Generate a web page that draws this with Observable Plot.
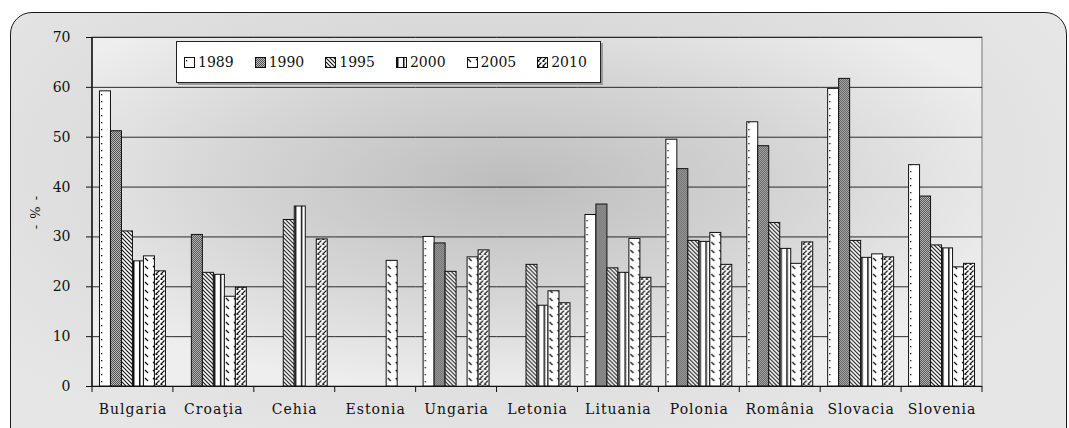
<!DOCTYPE html>
<html>
<head>
<meta charset="utf-8">
<script src="https://cdn.jsdelivr.net/npm/d3@7"></script>
<script src="https://cdn.jsdelivr.net/npm/@observablehq/plot@0.6"></script>
<style>
  html, body { margin: 0; padding: 0; background: #ffffff; }
  #wrap { position: relative; width: 1069px; height: 428px; overflow: hidden; }
  #frame {
    position: absolute; left: 10px; top: 12px; width: 1057px; height: 440px;
    border: 1.5px solid #1a1a1a; border-radius: 22px; box-sizing: border-box;
    background: radial-gradient(ellipse 60% 70% at 45% 35%, #c8c8c8 0%, #d9d9d9 45%, #e6e6e6 100%);
  }
  #chart { position: absolute; left: 0; top: 0; }
  #legend {
    position: absolute; left: 176px; top: 41px; width: 425px; height: 42px; box-sizing: border-box;
    background: #ffffff; border: 1.5px solid #222; box-shadow: 2px 2px 0 #9a9a9a;
    display: flex; align-items: center; padding-left: 7px; gap: 21px;
    font-family: "DejaVu Serif", serif; font-size: 14px; color: #111;
  }
  #legend .item { display: flex; align-items: center; }
  #legend svg { margin-right: 3px; }
</style>
</head>
<body>
<svg width="0" height="0" style="position:absolute">
  <defs>
    <pattern id="p1989" patternUnits="userSpaceOnUse" width="11" height="7">
      <rect width="11" height="7" fill="#ffffff"/>
      <rect x="2" y="3" width="1.3" height="1.3" fill="#111"/>
    </pattern>
    <pattern id="p1990" patternUnits="userSpaceOnUse" width="2" height="2">
      <rect width="2" height="2" fill="#bcbcbc"/>
      <rect x="0" y="0" width="1" height="1" fill="#505050"/>
      <rect x="1" y="1" width="1" height="1" fill="#505050"/>
    </pattern>
    <pattern id="p1995" patternUnits="userSpaceOnUse" width="4" height="4">
      <rect width="4" height="4" fill="#ffffff"/>
      <path d="M-1,-1 L5,5 M-1,3 L1,5 M3,-1 L5,1" stroke="#111" stroke-width="1.1"/>
    </pattern>
    <pattern id="p2000" patternUnits="userSpaceOnUse" width="6" height="10">
      <rect width="6" height="10" fill="#ffffff"/>
      <rect x="1" y="0" width="1.5" height="10" fill="#111"/>
    </pattern>
    <pattern id="p2005" patternUnits="userSpaceOnUse" width="8" height="8">
      <rect width="8" height="8" fill="#ffffff"/>
      <path d="M1,2 L4,5" stroke="#111" stroke-width="1.2"/>
    </pattern>
    <pattern id="p2010" patternUnits="userSpaceOnUse" width="5" height="5">
      <rect width="5" height="5" fill="#ffffff"/>
      <path d="M0.5,4.5 L4.5,0.5 M0.5,4.5 L2.5,4.5" stroke="#111" stroke-width="1.1" fill="none"/>
    </pattern>
    <radialGradient id="plotBg" cx="0.47" cy="0.42" r="0.6">
      <stop offset="0" stop-color="#bdbdbd"/>
      <stop offset="0.55" stop-color="#d6d6d6"/>
      <stop offset="1" stop-color="#eeeeee"/>
    </radialGradient>
  </defs>
</svg>
<div id="wrap">
  <div id="frame"></div>
  <div id="chart"></div>
  <div id="legend"></div>
</div>
<script>
// ---- data ----
const countries = ["Bulgaria", "Croaţia", "Cehia", "Estonia", "Ungaria", "Letonia", "Lituania", "Polonia", "România", "Slovacia", "Slovenia"];
const years = ["1989", "1990", "1995", "2000", "2005", "2010"];
const values1989 = [59.2, null, null, null, 30.0, null, 34.4, 49.5, 53.0, 59.7, 44.4];
const values1990 = [51.2, 30.4, null, null, 28.7, null, 36.5, 43.6, 48.2, 61.7, 38.1];
const values1995 = [31.1, 22.8, 33.4, null, 23.0, 24.4, 23.7, 29.2, 32.8, 29.2, 28.3];
const values2000 = [25.1, 22.4, 36.1, null, null, 16.2, 22.8, 29.0, 27.6, 25.8, 27.7];
const values2005 = [26.1, 18.0, null, 25.2, 25.9, 19.1, 29.6, 30.8, 24.6, 26.5, 23.9];
const values2010 = [23.1, 19.8, 29.5, null, 27.3, 16.7, 21.8, 24.4, 28.9, 25.9, 24.6];
const yTicks = [0, 10, 20, 30, 40, 50, 60, 70];
const patterns = ["url(#p1989)", "url(#p1990)", "url(#p1995)", "url(#p2000)", "url(#p2005)", "url(#p2010)"];

const series = [values1989, values1990, values1995, values2000, values2005, values2010];
const rows = [];
years.forEach((yr, j) => {
  countries.forEach((c, i) => {
    const v = series[j][i];
    if (v != null) rows.push({country: c, year: yr, value: v});
  });
});

const plot = Plot.plot({
  width: 1069,
  height: 428,
  marginLeft: 92,
  marginRight: 87,
  marginTop: 37,
  marginBottom: 42,
  style: {background: "transparent", fontFamily: "DejaVu Serif, serif", fontSize: "14px", color: "#111", overflow: "visible"},
  fx: {domain: countries, padding: 0, round: false, label: null, axis: "bottom", tickSize: 0, tickPadding: 18},
  x: {domain: years, paddingInner: 0, paddingOuter: 0.68, round: false, axis: null},
  y: {domain: [0, 70], ticks: yTicks, tickSize: 6, tickPadding: 16, label: "- % -", labelAnchor: "center", labelArrow: "none", labelOffset: 62},
  color: {domain: years, range: patterns},
  marks: [
    Plot.gridY(yTicks.slice(1), {stroke: "#2a2a2a", strokeOpacity: 1, strokeWidth: 1}),
    Plot.barY(rows, {fx: "country", x: "year", y: "value", fill: "year", stroke: "#111", strokeWidth: 1}),
    Plot.ruleY([0], {stroke: "#111", strokeWidth: 1.2})
  ]
});
document.getElementById("chart").appendChild(plot);

// post-processing: plot-area background, left axis line, boundary ticks
const svg = d3.select(plot);
const fx = plot.scale("fx");
const ys = plot.scale("y");
const x0 = fx.range[0], x1 = fx.range[1];
const yTop = ys.apply(70), yBot = ys.apply(0);
const bg = svg.insert("g", ":first-child");
bg.append("rect").attr("x", x0).attr("y", yTop).attr("width", x1 - x0).attr("height", yBot - yTop)
  .attr("fill", "url(#plotBg)").attr("stroke", "#8a8a8a").attr("stroke-width", 1.2);
bg.append("line").attr("x1", x0).attr("x2", x0).attr("y1", yTop).attr("y2", yBot)
  .attr("stroke", "#111").attr("stroke-width", 1.5);
const bounds = countries.map(c => fx.apply(c)).concat([x1]);
const tg = svg.append("g");
bounds.forEach(bx => {
  tg.append("line").attr("x1", bx).attr("x2", bx).attr("y1", yBot).attr("y2", yBot + 6)
    .attr("stroke", "#111").attr("stroke-width", 1);
});
// style tick labels & y label
svg.selectAll("text").attr("fill", "#111");
svg.selectAll("[aria-label='fx-axis tick label'] text, [aria-label='fx-axis tick label']").style("letter-spacing", "1px");
svg.selectAll("[aria-label='y-axis label'] text, [aria-label='y-axis label']").style("font-size", "13px").style("letter-spacing", "1px");

// legend
const legend = d3.select("#legend");
years.forEach((yr, j) => {
  const it = legend.append("div").attr("class", "item");
  const s = it.append("svg").attr("width", 11).attr("height", 11);
  s.append("rect").attr("x", 0.5).attr("y", 0.5).attr("width", 10).attr("height", 10)
    .attr("fill", patterns[j]).attr("stroke", "#111").attr("stroke-width", 1);
  it.append("span").text(yr);
});
</script>
</body>
</html>
